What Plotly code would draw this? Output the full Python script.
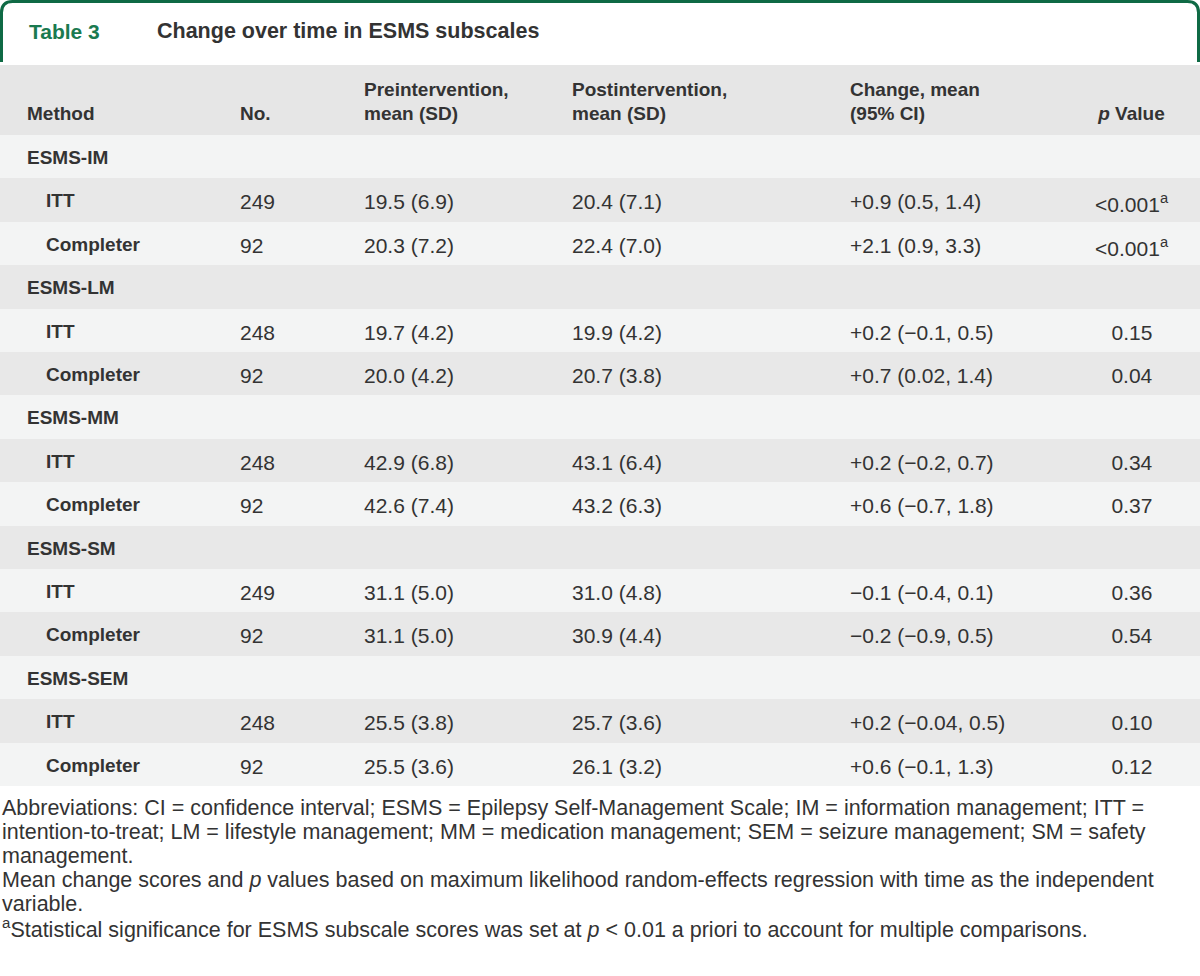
import plotly.graph_objects as go

W, H = 1200, 976

# ---- data ----
groups = ["ESMS-IM", "ESMS-LM", "ESMS-MM", "ESMS-SM", "ESMS-SEM"]
methods = ["ITT", "Completer"]
n_obs = [249, 92, 248, 92, 248, 92, 249, 92, 248, 92]
pre_mean = [19.5, 20.3, 19.7, 20.0, 42.9, 42.6, 31.1, 31.1, 25.5, 25.5]
pre_sd = [6.9, 7.2, 4.2, 4.2, 6.8, 7.4, 5.0, 5.0, 3.8, 3.6]
post_mean = [20.4, 22.4, 19.9, 20.7, 43.1, 43.2, 31.0, 30.9, 25.7, 26.1]
post_sd = [7.1, 7.0, 4.2, 3.8, 6.4, 6.3, 4.8, 4.4, 3.6, 3.2]
change = [0.9, 2.1, 0.2, 0.7, 0.2, 0.6, -0.1, -0.2, 0.2, 0.6]
ci_low = [0.5, 0.9, -0.1, 0.02, -0.2, -0.7, -0.4, -0.9, -0.04, -0.1]
ci_high = [1.4, 3.3, 0.5, 1.4, 0.7, 1.8, 0.1, 0.5, 0.5, 1.3]
p_values = ["<0.001", "<0.001", "0.15", "0.04", "0.34", "0.37", "0.36", "0.54", "0.10", "0.12"]
significant = [True, True, False, False, False, False, False, False, False, False]

col_headers = ["", "<b>\u00a0<br>Method</b>", "<b>\u00a0<br>No.</b>",
               "<b>Preintervention,<br>mean (SD)</b>", "<b>Postintervention,<br>mean (SD)</b>",
               "<b>Change, mean<br>(95% CI)</b>", "<b>\u00a0<br><i>p</i> Value</b>"]

footnotes = [
    "Abbreviations: CI = confidence interval; ESMS = Epilepsy Self-Management Scale; IM = information management; ITT =",
    "intention-to-treat; LM = lifestyle management; MM = medication management; SEM = seizure management; SM = safety",
    "management.",
    "Mean change scores and <i>p</i> values based on maximum likelihood random-effects regression with time as the independent",
    "variable.",
    "<sup>a</sup>Statistical significance for ESMS subscale scores was set at <i>p</i> &lt; 0.01 a priori to account for multiple comparisons.",
]

# ---- styling ----
FONT = "Liberation Sans"
TEXT = "#333333"
GREEN = "#0f6a45"
HEAD_BG = "#e6e6e6"
ROW_LIGHT = "#f3f4f4"
ROW_DARK = "#e8e8e8"
widths = [19, 213, 124, 208, 278, 222, 136]
HEADER_H = 70
ROW_H = 43.4
TABLE_TOP = 65
DY_HEAD = 5.5
DY_BODY = 4


def fmt_num(v):
    return f"{v:g}".replace("-", "\u2212")


def fmt_change(v):
    return f"{v:+.1f}".replace("-", "\u2212")


def span(s):
    return f"<span>{s}</span>" if s else ""


cols = [[] for _ in range(7)]
k = 0
for g in groups:
    for c, v in zip(cols, ["", f"<b>{g}</b>", "", "", "", "", ""]):
        c.append(v)
    for m in methods:
        p = p_values[k].replace("<", "&lt;") + ("<sup>a</sup>" if significant[k] else "")
        row = ["", f"<b>\u2002\u2002{m}</b>", span(str(n_obs[k])),
               span(f"{pre_mean[k]:.1f} ({pre_sd[k]:.1f})"),
               span(f"{post_mean[k]:.1f} ({post_sd[k]:.1f})"),
               span(f"{fmt_change(change[k])} ({fmt_num(ci_low[k])}, {fmt_num(ci_high[k])})"),
               span(p)]
        for c, v in zip(cols, row):
            c.append(v)
        k += 1

n_rows = len(cols[0])
row_fills = [ROW_LIGHT if i % 2 == 0 else ROW_DARK for i in range(n_rows)]


def py(v):
    return 1 - v / H


fig = go.Figure()

# background cells
fig.add_trace(go.Table(
    domain=dict(x=[0, 1], y=[py(TABLE_TOP + HEADER_H + ROW_H * n_rows + 6), py(TABLE_TOP)]),
    columnwidth=widths,
    header=dict(values=[""] * 7, height=HEADER_H, fill_color=HEAD_BG,
                line=dict(width=0, color=HEAD_BG)),
    cells=dict(values=[[""] * n_rows] * 7, height=ROW_H, fill_color=[row_fills] * 7,
               line=dict(width=0, color=ROW_LIGHT)),
))

# text layer, nudged down to centre the text in each row
fig.add_trace(go.Table(
    domain=dict(x=[0, 1], y=[py(TABLE_TOP + DY_HEAD + HEADER_H + ROW_H * n_rows + 6),
                             py(TABLE_TOP + DY_HEAD)]),
    columnwidth=widths,
    header=dict(values=col_headers, height=HEADER_H - (DY_HEAD - DY_BODY),
                fill_color="rgba(0,0,0,0)",
                line=dict(width=0, color="rgba(0,0,0,0)"),
                align=["left"] * 6 + ["center"],
                font=dict(family=FONT, size=19, color=TEXT)),
    cells=dict(values=cols, height=ROW_H, fill_color="rgba(0,0,0,0)",
               line=dict(width=0, color="rgba(0,0,0,0)"),
               align=["left"] * 6 + ["center"],
               font=dict(family=FONT, size=[19, 19, 21, 21, 21, 21, 21], color=TEXT)),
))

# title frame
x0, x1, y0, y1, r = 1.5 / W, 1198.5 / W, py(62), py(1.5), 11
fig.add_shape(
    type="path", xref="paper", yref="paper",
    path=(f"M {x0},{y0} L {x0},{py(1.5 + r)} Q {x0},{y1} {(1.5 + r) / W},{y1} "
          f"L {(1198.5 - r) / W},{y1} Q {x1},{y1} {x1},{py(1.5 + r)} L {x1},{y0}"),
    line=dict(color=GREEN, width=3),
)
fig.add_annotation(x=27 / W, y=py(31), xref="paper", yref="paper", xanchor="left", yanchor="middle",
                   text="<b>Table 3</b>", showarrow=False,
                   font=dict(family=FONT, size=21, color="#1a7a50"))
fig.add_annotation(x=155 / W, y=py(31), xref="paper", yref="paper", xanchor="left", yanchor="middle",
                   text="<b>Change over time in ESMS subscales</b>", showarrow=False,
                   font=dict(family=FONT, size=21.5, color=TEXT))

for i, line in enumerate(footnotes):
    fig.add_annotation(x=0, y=py(808 + 24 * i), xref="paper", yref="paper",
                       xanchor="left", yanchor="middle", text=line, showarrow=False,
                       font=dict(family=FONT, size=21.5, color=TEXT))

fig.update_layout(
    width=W, height=H,
    margin=dict(l=0, r=0, t=0, b=0),
    paper_bgcolor="white",
    plot_bgcolor="white",
    showlegend=False,
)

fig.write_html("out.html", config={"displayModeBar": False},
               post_script="document.body.style.margin='0px';")
